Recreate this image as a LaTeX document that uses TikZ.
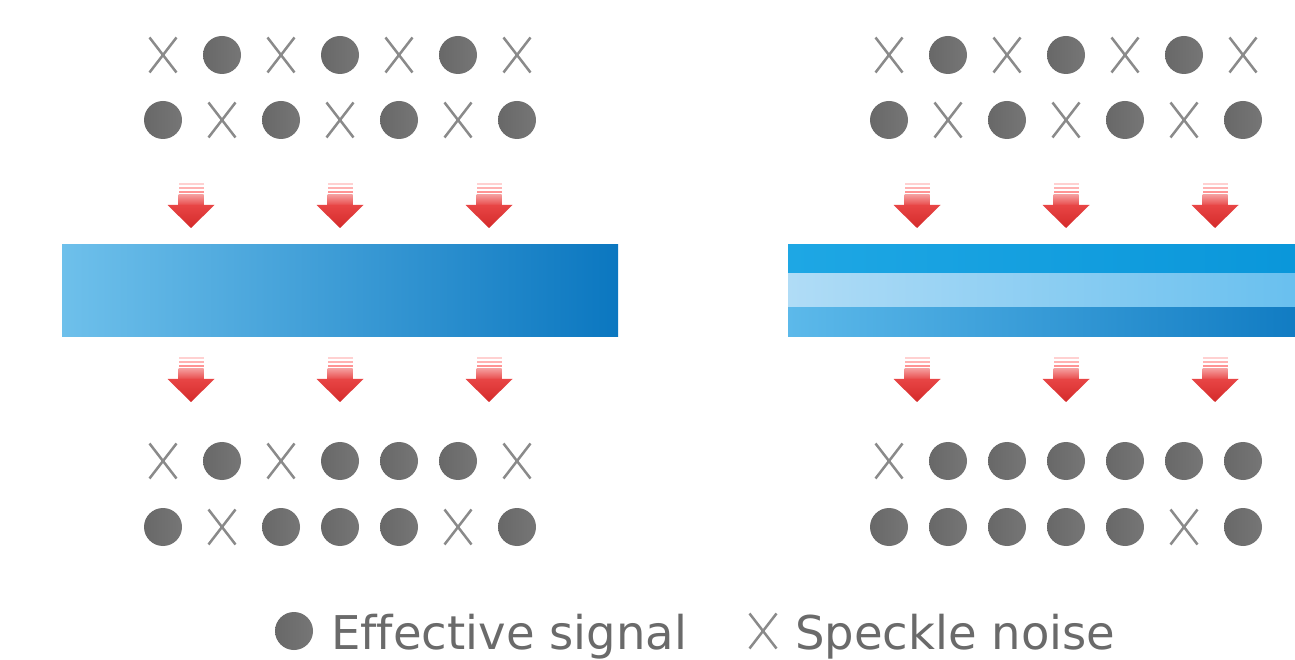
\documentclass[tikz,border=0pt]{standalone}
\usepackage{fontspec}
\setmainfont{DejaVu Sans}[Ligatures=NoCommon]
\definecolor{sigdark}{HTML}{686868}
\definecolor{sigmid}{HTML}{838383}
\definecolor{siglight}{HTML}{767676}
\definecolor{noisecol}{HTML}{8A8A8A}
\definecolor{txtgray}{HTML}{6A6A6A}
\definecolor{barL}{HTML}{6EC0EB}
\definecolor{barR}{HTML}{0B77C0}
\definecolor{topL}{HTML}{1EA7E4}
\definecolor{topR}{HTML}{0895D9}
\definecolor{midL}{HTML}{B0DCF6}
\definecolor{midR}{HTML}{62BDEE}
\definecolor{botL}{HTML}{5CB9EA}
\definecolor{botR}{HTML}{0A76BF}
\definecolor{arrTop}{HTML}{F49A9A}
\definecolor{arrMid}{HTML}{E84545}
\definecolor{arrTip}{HTML}{D42A2A}
\tikzset{
  sig/.pic={\shade[left color=sigdark, middle color=sigmid, right color=siglight] (0,0) circle (19pt);},
  noise/.pic={\draw[noisecol, line width=2.5pt] (-13.5,-17.5) -- (13.5,17.5) (-13.5,17.5) -- (13.5,-17.5);},
  redarrow/.pic={
    \fill[red!18] (-12.5,0) rectangle (12.5,-2.5);
    \fill[red!30] (-12.5,-4) rectangle (12.5,-6.5);
    \fill[red!42] (-12.5,-8) rectangle (12.5,-10.5);
    \shade[top color=arrTop, bottom color=arrMid] (-12.5,-12) rectangle (12.5,-23);
    \shade[top color=arrMid, bottom color=arrTip] (-23.5,-22) -- (23.5,-22) -- (0,-45) -- cycle;
  }
}
\newcommand\symrow[3]{%
  \foreach \t [count=\i from 0] in {#3} {%
    \ifnum\t=1 \pic at ({#1+59*\i},#2) {sig};\else \pic at ({#1+59*\i},#2) {noise};\fi}}
\begin{document}
\begin{tikzpicture}[x=1pt,y=1pt]
\useasboundingbox (0,0) rectangle (1295,659);
\clip (0,0) rectangle (1295,659);
\fill[white] (0,0) rectangle (1295,659);
% left panel symbols
\symrow{163}{604}{0,1,0,1,0,1,0}
\symrow{163}{539}{1,0,1,0,1,0,1}
\symrow{163}{198}{0,1,0,1,1,1,0}
\symrow{163}{132}{1,0,1,1,1,0,1}
% right panel symbols
\symrow{889}{604}{0,1,0,1,0,1,0}
\symrow{889}{539}{1,0,1,0,1,0,1}
\symrow{889}{198}{0,1,1,1,1,1,1}
\symrow{889}{132}{1,1,1,1,1,0,1}
% arrows
\foreach \cx in {191,340,489,917,1066,1215} {
  \pic at (\cx,476) {redarrow};
  \pic at (\cx,302) {redarrow};
}
% left bar
\shade[left color=barL, right color=barR] (62,322) rectangle (618,414);
% right bar (three layers)
\shade[left color=topL, right color=topR] (788,385) rectangle (1344,414);
\shade[left color=midL, right color=midR] (788,351) rectangle (1344,385);
\shade[left color=botL, right color=botR] (788,322) rectangle (1344,351);
% legend
\pic at (294,28) {sig};
\node[anchor=base west, inner sep=0pt, text=txtgray, font=\fontsize{46.5}{50}\selectfont] (lsig) at (331,10) {Effective signal};
\pic at (763,28) {noise};
\node[anchor=base west, inner sep=0pt, text=txtgray, font=\fontsize{46.5}{50}\selectfont] (lnoise) at (795,10) {Speckle noise};
\end{tikzpicture}
\end{document}
